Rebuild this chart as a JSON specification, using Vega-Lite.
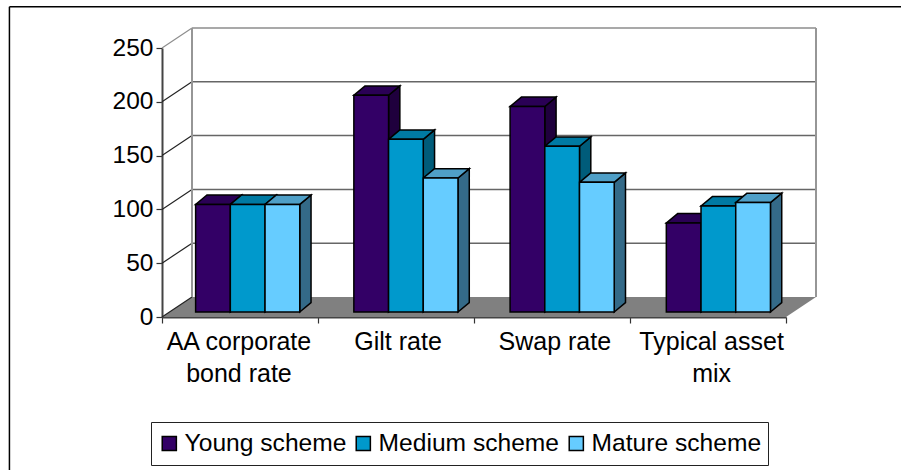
{
 "$schema":"https://vega.github.io/schema/vega-lite/v6.json",
 "width":624,"height":269,
 "autosize":{"type":"none"},
 "padding":{"left":162,"top":48,"right":115,"bottom":153},
 "background":"white",
 "config":{"view":{"stroke":null},"font":"Liberation Sans"},
 "datasets":{
  "bars":[
   {"category":"AA corporate bond rate","series":"Young scheme","value":100},
   {"category":"AA corporate bond rate","series":"Medium scheme","value":100},
   {"category":"AA corporate bond rate","series":"Mature scheme","value":100},
   {"category":"Gilt rate","series":"Young scheme","value":201.4},
   {"category":"Gilt rate","series":"Medium scheme","value":160.5},
   {"category":"Gilt rate","series":"Mature scheme","value":124.5},
   {"category":"Swap rate","series":"Young scheme","value":191},
   {"category":"Swap rate","series":"Medium scheme","value":154},
   {"category":"Swap rate","series":"Mature scheme","value":120.5},
   {"category":"Typical asset mix","series":"Young scheme","value":82.7},
   {"category":"Typical asset mix","series":"Medium scheme","value":98.5},
   {"category":"Typical asset mix","series":"Mature scheme","value":101.7}
  ],
  "grid":[{"v":0},{"v":50},{"v":100},{"v":150},{"v":200},{"v":250}]
 },
 "resolve":{"axis":{"x":"independent","y":"independent"},"scale":{"fill":"independent"},"legend":{"fill":"independent"}},
 "layer":[
  {"data":{"name":"grid"},
   "transform":[{"filter":"datum.v==0"},{"calculate":"[0,1]","as":"t"},{"flatten":["t"]},
    {"calculate":"datum.t*0.1923","as":"xa"},{"calculate":"4+datum.t*0.1923","as":"xb"},{"calculate":"datum.t*18.6","as":"yy"}],
   "mark":{"type":"area","orient":"horizontal","fill":"#808080","stroke":null},
   "encoding":{
    "x":{"field":"xa","type":"quantitative","scale":{"domain":[0,4],"nice":false,"zero":false},"axis":null},
    "x2":{"field":"xb"},
    "y":{"field":"yy","type":"quantitative","scale":{"domain":[0,250],"nice":false,"zero":false},"axis":null}
   }},
  {"data":{"name":"grid"},
   "transform":[{"filter":"datum.v>0"},{"calculate":"datum.v+18.6","as":"yb"},{"calculate":"0.1923","as":"xa"},{"calculate":"4.1923","as":"xb"}],
   "mark":{"type":"rule","strokeWidth":1.5},
   "encoding":{
    "x":{"field":"xa","type":"quantitative","scale":{"domain":[0,4],"nice":false,"zero":false},"axis":null},
    "x2":{"field":"xb"},
    "y":{"field":"yb","type":"quantitative","scale":{"domain":[0,250],"nice":false,"zero":false},"axis":null},
    "color":{"condition":{"test":"datum.v==250","value":"#8c8c8c"},"value":"#666666"}
   }},
  {"data":{"name":"grid"},
   "transform":[{"calculate":"datum.v+18.6","as":"yb"},{"calculate":"0","as":"xa"},{"calculate":"0.1923","as":"xb"}],
   "mark":{"type":"rule","strokeWidth":1.2},
   "encoding":{
    "x":{"field":"xa","type":"quantitative","scale":{"domain":[0,4],"nice":false,"zero":false},"axis":null},
    "x2":{"field":"xb"},
    "y":{"field":"v","type":"quantitative","scale":{"domain":[0,250],"nice":false,"zero":false},
     "axis":{"orient":"left","title":null,"values":[0,50,100,150,200,250],"grid":false,"labelFontSize":24.5,"labelColor":"black","labelPadding":3,"tickSize":6,"tickColor":"#333333","tickWidth":1.2,"domainColor":"#444444","domainWidth":2}},
    "y2":{"field":"yb"},
    "color":{"condition":{"test":"datum.v==250","value":"#8c8c8c"},"value":"#222222"}
   }},
  {"data":{"name":"grid"},
   "transform":[{"filter":"datum.v==0"},{"calculate":"[0.1923,4.1923]","as":"xw"},{"flatten":["xw"]},{"calculate":"18.6","as":"ya"},{"calculate":"268.6","as":"yb"}],
   "mark":{"type":"rule","strokeWidth":2,"color":"#969696"},
   "encoding":{
    "x":{"field":"xw","type":"quantitative","scale":{"domain":[0,4],"nice":false,"zero":false},"axis":null},
    "y":{"field":"ya","type":"quantitative","scale":{"domain":[0,250],"nice":false,"zero":false},"axis":null},
    "y2":{"field":"yb"}
   }},
  {"data":{"name":"bars"},
   "transform":[
    {"calculate":"indexof(['AA corporate bond rate','Gilt rate','Swap rate','Typical asset mix'],datum.category)","as":"ci"},
    {"calculate":"indexof(['Young scheme','Medium scheme','Mature scheme'],datum.series)","as":"si"},
    {"calculate":"[0,1]","as":"t"},{"flatten":["t"]},
    {"calculate":"0.2155+datum.ci*1.0015+(datum.ci>0?0.0128:0)+(datum.si+1)*0.2225+datum.t*0.0724","as":"xs"},
    {"calculate":"4.65+datum.t*8.74","as":"ylo"},
    {"calculate":"4.65+datum.value+datum.t*8.74","as":"yhi"}
   ],
   "mark":{"type":"area","stroke":"black","strokeWidth":1.5},
   "encoding":{
    "x":{"field":"xs","type":"quantitative","scale":{"domain":[0,4],"nice":false,"zero":false},"axis":null},
    "y":{"field":"ylo","type":"quantitative","scale":{"domain":[0,250],"nice":false,"zero":false},"axis":null},
    "y2":{"field":"yhi"},
    "detail":[{"field":"category"},{"field":"series"}],
    "fill":{"field":"series","type":"nominal","scale":{"domain":["Young scheme","Medium scheme","Mature scheme"],"range":["#1f003d","#005c7a","#346a88"]},"legend":null}
   }},
  {"data":{"name":"bars"},
   "transform":[
    {"calculate":"indexof(['AA corporate bond rate','Gilt rate','Swap rate','Typical asset mix'],datum.category)","as":"ci"},
    {"calculate":"indexof(['Young scheme','Medium scheme','Mature scheme'],datum.series)","as":"si"},
    {"calculate":"[0,1]","as":"t"},{"flatten":["t"]},
    {"calculate":"0.2155+datum.ci*1.0015+(datum.ci>0?0.0128:0)+datum.si*0.2225+datum.t*0.0724","as":"xa"},
    {"calculate":"datum.xa+0.2225","as":"xb"},
    {"calculate":"4.65+datum.value+datum.t*8.74","as":"yy"}
   ],
   "mark":{"type":"area","orient":"horizontal","stroke":"black","strokeWidth":1.5},
   "encoding":{
    "x":{"field":"xa","type":"quantitative","scale":{"domain":[0,4],"nice":false,"zero":false},"axis":null},
    "x2":{"field":"xb"},
    "y":{"field":"yy","type":"quantitative","scale":{"domain":[0,250],"nice":false,"zero":false},"axis":null},
    "detail":[{"field":"category"},{"field":"series"}],
    "fill":{"field":"series","type":"nominal","scale":{"domain":["Young scheme","Medium scheme","Mature scheme"],"range":["#2a0055","#007aa3","#4f9fc7"]},"legend":null}
   }},
  {"data":{"name":"grid"},
   "transform":[{"filter":"datum.v==0"}],
   "mark":{"type":"rule","opacity":0},
   "encoding":{
    "x":{"datum":0,"type":"quantitative","scale":{"domain":[0,4],"nice":false,"zero":false},
     "axis":{"orient":"bottom","title":null,"values":[0,1,2,3,4],"grid":false,"labels":false,"tickSize":6,"tickColor":"#333333","tickWidth":1.2,"domainColor":"#444444","domainWidth":2}}
   }},
  {"data":{"name":"bars"},
   "transform":[
    {"calculate":"indexof(['AA corporate bond rate','Gilt rate','Swap rate','Typical asset mix'],datum.category)","as":"ci"},
    {"calculate":"indexof(['Young scheme','Medium scheme','Mature scheme'],datum.series)","as":"si"},
    {"calculate":"0.2155+datum.ci*1.0015+(datum.ci>0?0.0128:0)+datum.si*0.2225","as":"xa"},
    {"calculate":"datum.xa+0.2225","as":"xb"},
    {"calculate":"4.65","as":"ylo"},
    {"calculate":"4.65+datum.value","as":"yhi"}
   ],
   "mark":{"type":"rect","stroke":"black","strokeWidth":1.5},
   "encoding":{
    "x":{"field":"xa","type":"quantitative","scale":{"domain":[0,4],"nice":false,"zero":false},
     "axis":{"orient":"bottom","title":null,"values":[0.49,1.51,2.515,3.52],"grid":false,"domain":false,"ticks":false,"labelFontSize":25,"labelColor":"black","labelPadding":12,"labelLineHeight":32,"labelAngle":0,"labelFlush":false,"labelOverlap":false,"labelExpr":"[['AA corporate','bond rate'],['Gilt rate'],['Swap rate'],['Typical asset','mix']][floor(datum.value)]"}},
    "x2":{"field":"xb"},
    "y":{"field":"ylo","type":"quantitative","scale":{"domain":[0,250],"nice":false,"zero":false},"axis":null},
    "y2":{"field":"yhi"},
    "fill":{"field":"series","type":"nominal","scale":{"domain":["Young scheme","Medium scheme","Mature scheme"],"range":["#330066","#0099cc","#66ccff"]},
     "legend":{"title":null,"orient":"none","legendX":-11,"legendY":374,"direction":"horizontal","columns":3,"symbolType":"square","symbolSize":200,"symbolStrokeColor":"black","symbolStrokeWidth":1.5,"symbolOpacity":1,"labelFontSize":24.6,"labelColor":"black","labelOffset":3,"labelLimit":400,"columnPadding":4,"padding":6,"clipHeight":31,"strokeColor":"#222222","fillColor":"white"}}
   }},
  {"data":{"values":[{"frame":"chart border"}]},
   "mark":{"type":"rule","color":"black","strokeWidth":1.5,"clip":false},
   "encoding":{
    "x":{"datum":-0.978,"type":"quantitative","scale":{"domain":[0,4],"nice":false,"zero":false},"axis":null},
    "x2":{"datum":5},
    "y":{"datum":288.3,"type":"quantitative","scale":{"domain":[0,250],"nice":false,"zero":false},"axis":null}
   }},
  {"data":{"values":[{"frame":"chart border"}]},
   "mark":{"type":"rule","color":"black","strokeWidth":1.5,"clip":false},
   "encoding":{
    "x":{"datum":-0.978,"type":"quantitative","scale":{"domain":[0,4],"nice":false,"zero":false},"axis":null},
    "y":{"datum":288.3,"type":"quantitative","scale":{"domain":[0,250],"nice":false,"zero":false},"axis":null},
    "y2":{"datum":-150}
   }}
 ]
}
